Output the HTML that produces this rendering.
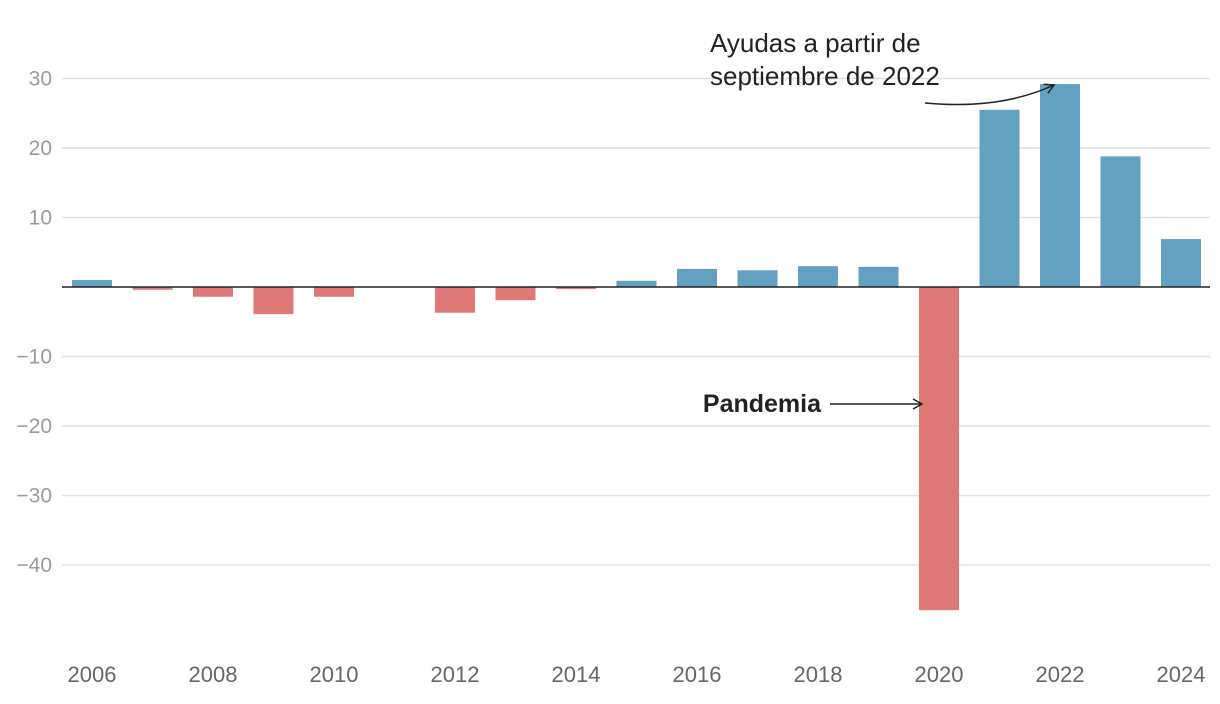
<!DOCTYPE html>
<html><head><meta charset="utf-8"><style>
html,body{margin:0;padding:0;background:#fff;width:1220px;height:704px;overflow:hidden}
svg{display:block;font-family:"Liberation Sans",sans-serif}
</style></head><body>
<svg id="chart" width="1220" height="704"></svg>
<script>
const years=[2006,2007,2008,2009,2010,2011,2012,2013,2014,2015,2016,2017,2018,2019,2020,2021,2022,2023,2024];
const values=[1.0,-0.4,-1.4,-3.9,-1.4,0,-3.7,-1.9,-0.3,0.9,2.6,2.4,3.0,2.9,-46.5,25.5,29.2,18.8,6.9];
const yTicks=[30,20,10,-10,-20,-30,-40];
const xTickYears=[2006,2008,2010,2012,2014,2016,2018,2020,2022,2024];
const NS='http://www.w3.org/2000/svg';
const svg=document.getElementById('chart');
const y=v=>287-v*6.95;
const x=yr=>92+(yr-2006)*60.5;
const bw=40;
function mk(t,a,p){const e=document.createElementNS(NS,t);for(const k in a)e.setAttribute(k,a[k]);(p||svg).appendChild(e);return e;}
yTicks.forEach(t=>{
 const g=mk('line',{x1:62,x2:1210,y1:y(t),y2:y(t),stroke:'#e0e0e0','stroke-width':1.5});
 
 
 const l=mk('text',{x:52,y:y(t)+7,fill:'#9a9a9a','font-size':21,'text-anchor':'end'});
 l.textContent=t<0?'\u2212'+Math.abs(t):t;
 
 
});
years.forEach((yr,i)=>{
 const v=values[i];if(v===0)return;
 const r=mk('rect',{x:x(yr)-bw/2,y:Math.min(y(v),y(0)),width:bw,height:Math.abs(y(v)-y(0)),fill:v>=0?'#62a1bf':'#df7876'});
 
 
});
const z=mk('line',{x1:62,x2:1210,y1:y(0),y2:y(0),stroke:'#222','stroke-width':1.5});


xTickYears.forEach(yr=>{
 const t=mk('text',{x:x(yr),y:682,fill:'#666','font-size':22,'text-anchor':'middle'});
 t.textContent=yr;
 
 
});
</script>
<svg width="1220" height="704" style="position:absolute;left:0;top:0;font-family:'Liberation Sans',sans-serif">
 <defs><marker id="ah" markerWidth="12" markerHeight="12" refX="10" refY="6" orient="auto" markerUnits="userSpaceOnUse"><path d="M1,1 L10,6 L1,11" fill="none" stroke="#222" stroke-width="1.5"/></marker></defs>
 <text x="710" y="52" font-size="26" fill="#222"><tspan x="710">Ayudas a partir de</tspan><tspan x="710" dy="33">septiembre de 2022</tspan></text>
 <path d="M925,103 Q1000,110 1054,85" fill="none" stroke="#222" stroke-width="1.5" marker-end="url(#ah)"/>
 <text x="821" y="412" font-size="25" font-weight="bold" fill="#222" text-anchor="end">Pandemia</text>
 <path d="M830,404 L922,404" fill="none" stroke="#222" stroke-width="1.5" marker-end="url(#ah)"/>
</svg>
</body></html>
